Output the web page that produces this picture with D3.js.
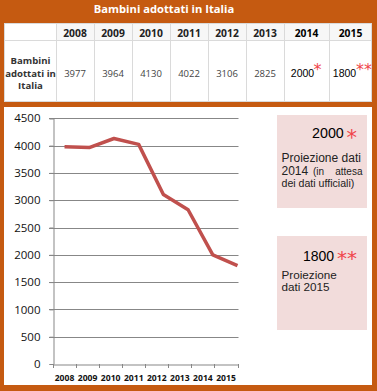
<!DOCTYPE html>
<html>
<head>
<meta charset="utf-8">
<script src="https://cdn.jsdelivr.net/npm/d3@7"></script>
<style>
  html, body { margin: 0; padding: 0; background: #C55A11; }
  svg { display: block; }
</style>
</head>
<body>
<svg id="chart" width="377" height="391"></svg>
<script>
// ---- data ----
const title = "Bambini adottati in Italia";
const years = ["2008", "2009", "2010", "2011", "2012", "2013", "2014", "2015"];
const values = [3977, 3964, 4130, 4022, 3106, 2825, 2000, 1800];
const tableStars = ["", "", "", "", "", "", "*", "**"];
const rowLabel = ["Bambini", "adottati in", "Italia"];
const yTicks = [0, 500, 1000, 1500, 2000, 2500, 3000, 3500, 4000, 4500];
const note1 = { value: "2000", stars: "*", lines: ["Proiezione dati", "2014", "(in", "attesa", "dei dati ufficiali)"] };
const note2 = { value: "1800", stars: "**", lines: ["Proiezione", "dati 2015"] };

const W = 377, H = 391;
const orange = "#C55A11";
const lineColor = "#C0504D";
const pink = "#F2DCDB";
const gridColor = "#878787";
const starColor = "#F0454B";

const svg = d3.select("#chart");
svg.append("rect").attr("width", W).attr("height", H).attr("fill", orange);

// ---- title ----
svg.append("text")
  .attr("x", 164).attr("y", 13)
  .attr("text-anchor", "middle")
  .attr("font-family", "'Open Sans', sans-serif")
  .attr("font-weight", "bold")
  .attr("font-size", 11.2)
  .attr("fill", "#fff")
  .text(title);

// ---- table ----
const tbl = { x0: 4, x1: 372, y0: 23, yh: 40, y1: 102, firstColW: 52 };
const colWidths = years.map((y, i) => i < 6 ? 38 : (i === 6 ? 45 : 43));
const colStarts = [];
let acc = tbl.x0 + tbl.firstColW;
colWidths.forEach(w => { colStarts.push(acc); acc += w; });

const tg = svg.append("g");
tg.append("rect").attr("x", tbl.x0).attr("y", tbl.y0)
  .attr("width", tbl.x1 - tbl.x0).attr("height", tbl.y1 - tbl.y0)
  .attr("fill", "#fff");
tg.append("rect").attr("x", tbl.x0 + tbl.firstColW).attr("y", tbl.y0)
  .attr("width", tbl.x1 - tbl.x0 - tbl.firstColW).attr("height", tbl.yh - tbl.y0)
  .attr("fill", "#F7F7F7");
const borderColor = "#DADADA";
tg.selectAll("line.v").data(colStarts).join("line")
  .attr("x1", d => d + 0.5).attr("x2", d => d + 0.5)
  .attr("y1", tbl.y0).attr("y2", tbl.y1)
  .attr("stroke", borderColor);
tg.append("line").attr("x1", tbl.x0).attr("x2", tbl.x1)
  .attr("y1", tbl.yh + 0.5).attr("y2", tbl.yh + 0.5).attr("stroke", borderColor);
tg.append("rect").attr("x", tbl.x0 + 0.5).attr("y", tbl.y0 + 0.5)
  .attr("width", tbl.x1 - tbl.x0 - 1).attr("height", tbl.y1 - tbl.y0 - 1)
  .attr("fill", "none").attr("stroke", borderColor);

// headers
tg.selectAll("text.h").data(years).join("text")
  .attr("x", (d, i) => colStarts[i] + colWidths[i] / 2)
  .attr("y", 36.5)
  .attr("text-anchor", "middle")
  .attr("font-family", "'Open Sans', sans-serif")
  .attr("font-weight", "bold")
  .attr("font-size", 10.3)
  .attr("fill", (d, i) => i >= 6 ? "#000" : "#222")
  .text(d => d);

// row label
tg.selectAll("text.r").data(rowLabel).join("text")
  .attr("x", tbl.x0 + tbl.firstColW / 2 + 0.5)
  .attr("y", (d, i) => 64 + i * 12.6)
  .attr("text-anchor", "middle")
  .attr("font-family", "'Open Sans', sans-serif")
  .attr("font-weight", "bold")
  .attr("font-size", 9.6)
  .attr("fill", "#333")
  .text(d => d);

// values
const valG = tg.selectAll("g.val").data(values).join("g");
valG.append("text")
  .attr("x", (d, i) => i < 6 ? colStarts[i] + colWidths[i] / 2 : colStarts[i] + colWidths[i] / 2 - (i === 6 ? 4 : 6))
  .attr("y", 76.7)
  .attr("text-anchor", "middle")
  .attr("font-family", (d, i) => i < 6 ? "'Open Sans', sans-serif" : "'Liberation Sans', Arial, sans-serif")
  .attr("font-size", (d, i) => i < 6 ? 9.5 : 10.5)
  .attr("fill", (d, i) => i < 6 ? "#444" : "#000")
  .text(d => d);
valG.append("text")
  .attr("x", (d, i) => colStarts[i] + colWidths[i] / 2 + (i === 6 ? 7 : 5.5))
  .attr("y", 74.5)
  .attr("font-family", "'DejaVu Sans', sans-serif")
  .attr("font-size", 16)
  .attr("fill", starColor)
  .text((d, i) => tableStars[i]);

// ---- chart panel ----
svg.append("rect").attr("x", 4).attr("y", 107).attr("width", 368).attr("height", 278).attr("fill", "#fff");

const plot = { left: 53, right: 237.5, top: 118.3, bottom: 364 };
const x = d3.scaleBand().domain(years).range([plot.left, plot.right]).padding(0);
const y = d3.scaleLinear().domain([0, 4500]).range([plot.bottom, plot.top]);
const xLine = d3.scalePoint().domain(years)
  .range([x(years[0]) + x.bandwidth() / 2, plot.right]);

// gridlines
svg.append("g").selectAll("line").data(yTicks.filter(t => t > 0)).join("line")
  .attr("x1", plot.left - 4).attr("x2", plot.right + 1)
  .attr("y1", d => Math.round(y(d)) + 0.5).attr("y2", d => Math.round(y(d)) + 0.5)
  .attr("stroke", gridColor).attr("stroke-width", 1);

// y axis
const yAxis = svg.append("g")
  .attr("transform", `translate(${plot.left + 0.5},0)`)
  .call(d3.axisLeft(y).tickValues(yTicks).tickSize(4).tickPadding(9).tickFormat(d3.format("d")));
yAxis.select(".domain").attr("stroke", gridColor);
yAxis.selectAll(".tick line").attr("stroke", gridColor);
yAxis.selectAll("text")
  .attr("font-family", "'Open Sans', sans-serif")
  .attr("font-size", 11.5)
  .attr("fill", "#111");

// x axis
const xAxis = svg.append("g")
  .attr("transform", `translate(0,${plot.bottom + 0.5})`)
  .call(d3.axisBottom(x).tickSize(0).tickPadding(10));
xAxis.select(".domain").attr("stroke", gridColor);
xAxis.selectAll("text")
  .attr("font-family", "'Open Sans', sans-serif")
  .attr("font-weight", "bold")
  .attr("font-size", 8.6)
  .attr("fill", "#111");
const bounds = years.map(d => x(d)).concat([x.range()[1]]);
svg.append("g").selectAll("line").data(bounds).join("line")
  .attr("x1", d => Math.round(d) + 0.5).attr("x2", d => Math.round(d) + 0.5)
  .attr("y1", plot.bottom).attr("y2", plot.bottom + 4)
  .attr("stroke", gridColor);

// line
const line = d3.line().x((d, i) => xLine(years[i])).y(d => y(d));
svg.append("path")
  .datum(values)
  .attr("d", line)
  .attr("fill", "none")
  .attr("stroke", lineColor)
  .attr("stroke-width", 3.5)
  .attr("stroke-linejoin", "round");

// ---- note boxes ----
const arial = "'Liberation Sans', Arial, sans-serif";
function noteBox(bx, by, bw, bh) {
  svg.append("rect").attr("x", bx).attr("y", by).attr("width", bw).attr("height", bh).attr("fill", pink);
}
noteBox(277, 115, 90, 93);
noteBox(277, 236, 90, 94);

// note 1
svg.append("text").attr("x", 312).attr("y", 138.3)
  .attr("font-family", arial).attr("font-size", 14.3).attr("fill", "#000").text(note1.value);
svg.append("text").attr("x", 346.5).attr("y", 145)
  .attr("font-family", "'DejaVu Sans', sans-serif").attr("font-size", 21).attr("fill", starColor).text(note1.stars);
svg.append("text").attr("x", 281.5).attr("y", 161.5)
  .attr("font-family", arial).attr("font-size", 12).attr("fill", "#222").text(note1.lines[0]);
svg.append("text").attr("x", 281.5).attr("y", 174.5)
  .attr("font-family", arial).attr("font-size", 12).attr("fill", "#222").text(note1.lines[1]);
svg.append("text").attr("x", 313).attr("y", 174.5)
  .attr("font-family", arial).attr("font-size", 10).attr("fill", "#222").text(note1.lines[2]);
svg.append("text").attr("x", 362.5).attr("y", 174.5).attr("text-anchor", "end")
  .attr("font-family", arial).attr("font-size", 10).attr("fill", "#222").text(note1.lines[3]);
svg.append("text").attr("x", 281.5).attr("y", 187)
  .attr("font-family", arial).attr("font-size", 10.6).attr("fill", "#222").text(note1.lines[4]);

// note 2
svg.append("text").attr("x", 303).attr("y", 261)
  .attr("font-family", arial).attr("font-size", 14).attr("fill", "#000").text(note2.value);
svg.append("text").attr("x", 337).attr("y", 264.5)
  .attr("font-family", "'DejaVu Sans', sans-serif").attr("font-size", 20).attr("fill", starColor).text(note2.stars);
note2.lines.forEach((t, i) => {
  svg.append("text").attr("x", 281.5).attr("y", 279 + i * 12.4)
    .attr("font-family", arial).attr("font-size", 11.7).attr("fill", "#222").text(t);
});
</script>
</body>
</html>
